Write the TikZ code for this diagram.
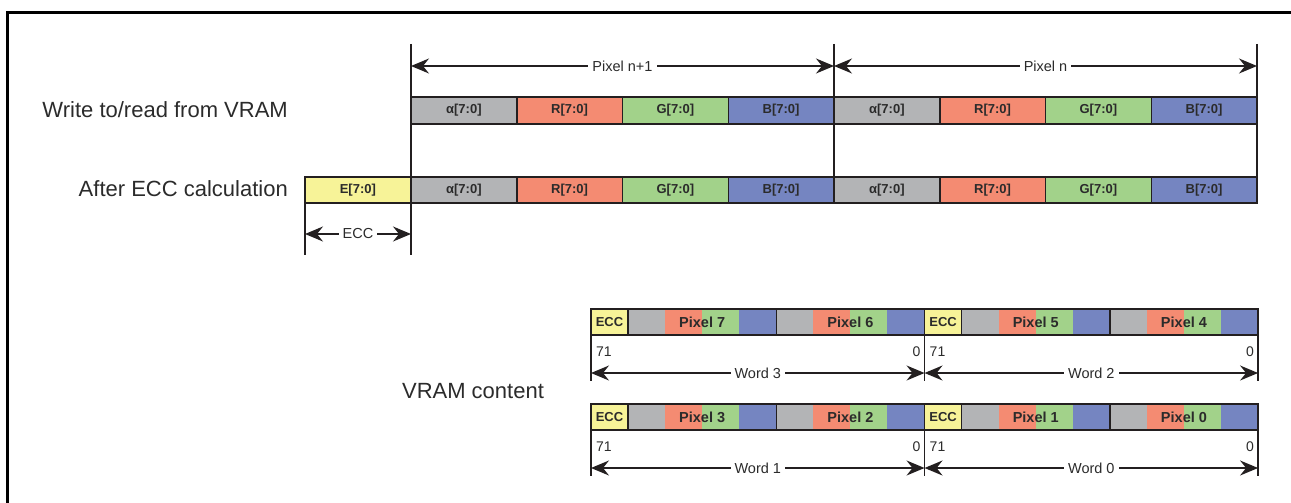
\documentclass[tikz,border=0pt]{standalone}
\usepackage{fontspec}
\setmainfont{Liberation Sans}
\usetikzlibrary{arrows.meta}

\definecolor{linecol}{HTML}{231F20}
\definecolor{txtcol}{HTML}{2B2B2B}
\definecolor{agray}{HTML}{B3B4B6}
\definecolor{rsalmon}{HTML}{F48B72}
\definecolor{ggreen}{HTML}{A2D28A}
\definecolor{bblue}{HTML}{7585C1}
\definecolor{eyellow}{HTML}{F7F398}

\tikzset{
  fieldbox/.style={draw=linecol, line width=1.5pt, minimum width=105.75pt,
    minimum height=27pt, inner sep=0pt, outer sep=0pt, anchor=north west,
    text=txtcol, font=\bfseries\fontsize{13}{15}\selectfont},
  eccbox/.style={draw=linecol, line width=1.6pt, fill=eyellow, minimum width=37.06pt,
    minimum height=26pt, inner sep=0pt, outer sep=0pt, anchor=north west,
    text=txtcol, font=\bfseries\fontsize{13}{15}\selectfont},
  pixbox/.style={draw=linecol, line width=1.6pt, minimum width=148.24pt,
    minimum height=26pt, inner sep=0pt, outer sep=0pt, anchor=north west,
    text=txtcol, font=\bfseries\fontsize{14.5}{17}\selectfont},
  wordbox/.style={draw=linecol, line width=1.8pt, minimum width=333.54pt,
    minimum height=26pt, inner sep=0pt, outer sep=0pt, anchor=north west},
  rowlabel/.style={text=txtcol, font=\fontsize{22}{26}\selectfont, inner sep=0pt},
  dimlabel/.style={fill=white, text=txtcol, inner xsep=4pt, inner ysep=1pt,
    font=\fontsize{14.5}{17}\selectfont},
  numtext/.style={text=txtcol, inner sep=0pt, font=\fontsize{14}{16}\selectfont},
  tick/.style={draw=linecol, line width=1.6pt},
  dimarrow/.style={draw=linecol, line width=1.6pt, <->}
}

\begin{document}
\begin{tikzpicture}[x=1pt, y=-1pt, >={Stealth[length=18pt,width=15pt,inset=6pt]}]

    \def\xe{305}     % left of E[7:0]
    \def\xa{411}     % start of pixel n+1
    \def\bw{105.75}  % one byte field, top rows
    \def\ya{97}      % write/read row
    \def\yb{177}     % after ECC row
    \def\u{37.06}    % one byte field, VRAM words
    \def\wh{26}
    \def\xw{591}     % left of word 3 / word 1

    \useasboundingbox (0,0) rectangle (1291,503);

    % --- Frame ---
    \draw[line width=3pt] (7,503) -- (7,13) -- (1291,13);

    % --- Row labels ---
    \node[rowlabel, anchor=east] (lwrite) at (288,110) {Write to/read from VRAM};
    \node[rowlabel, anchor=east] (lecc) at (288,189) {After ECC calculation};
    \node[rowlabel] (lvram) at (473,391) {VRAM content};

    % --- Write to/read from VRAM ---
    \node[fieldbox, fill=agray]   (wa1) at (\xa,\ya) {α[7:0]};
    \node[fieldbox, fill=rsalmon] (wr1) at (\xa+\bw,\ya) {R[7:0]};
    \node[fieldbox, fill=ggreen]  (wg1) at (\xa+2*\bw,\ya) {G[7:0]};
    \node[fieldbox, fill=bblue]   (wb1) at (\xa+3*\bw,\ya) {B[7:0]};
    \node[fieldbox, fill=agray]   (wa0) at (\xa+4*\bw,\ya) {α[7:0]};
    \node[fieldbox, fill=rsalmon] (wr0) at (\xa+5*\bw,\ya) {R[7:0]};
    \node[fieldbox, fill=ggreen]  (wg0) at (\xa+6*\bw,\ya) {G[7:0]};
    \node[fieldbox, fill=bblue]   (wb0) at (\xa+7*\bw,\ya) {B[7:0]};

    % --- After ECC calculation ---
    \node[fieldbox, fill=eyellow, minimum height=26pt] (ce)  at (\xe,\yb) {E[7:0]};
    \node[fieldbox, fill=agray, minimum height=26pt]   (ca1) at (\xa,\yb) {α[7:0]};
    \node[fieldbox, fill=rsalmon, minimum height=26pt] (cr1) at (\xa+\bw,\yb) {R[7:0]};
    \node[fieldbox, fill=ggreen, minimum height=26pt]  (cg1) at (\xa+2*\bw,\yb) {G[7:0]};
    \node[fieldbox, fill=bblue, minimum height=26pt]   (cb1) at (\xa+3*\bw,\yb) {B[7:0]};
    \node[fieldbox, fill=agray, minimum height=26pt]   (ca0) at (\xa+4*\bw,\yb) {α[7:0]};
    \node[fieldbox, fill=rsalmon, minimum height=26pt] (cr0) at (\xa+5*\bw,\yb) {R[7:0]};
    \node[fieldbox, fill=ggreen, minimum height=26pt]  (cg0) at (\xa+6*\bw,\yb) {G[7:0]};
    \node[fieldbox, fill=bblue, minimum height=26pt]   (cb0) at (\xa+7*\bw,\yb) {B[7:0]};

    % --- Pixel boundaries ---
    \coordinate (top1) at (\xa,44);
    \coordinate (top2) at (\xa+4*\bw,44);
    \coordinate (top3) at (\xa+8*\bw,44);
    \coordinate (bot1) at (\xa,255);
    \coordinate (bote) at (\xe,255);
    \draw[tick] (top1) -- (bot1);
    \draw[tick] (top2) -- (ca0.north west);
    \draw[tick] (top3) -- (cb0.south east);
    \draw[tick] (ce.south west) -- (bote);

    \coordinate (pn1l) at (\xa,66);
    \coordinate (pn1r) at (\xa+4*\bw,66);
    \coordinate (pnr)  at (\xa+8*\bw,66);
    \draw[dimarrow] (pn1l) -- (pn1r) node[midway, dimlabel] (lpn1) {Pixel n+1};
    \draw[dimarrow] (pn1r) -- (pnr) node[midway, dimlabel] (lpn) {Pixel n};

    \coordinate (eccl) at (\xe,234);
    \coordinate (eccr) at (\xa,234);
    \draw[dimarrow] (eccl) -- (eccr) node[midway, dimlabel] (lecca) {ECC};

    % --- VRAM words: #1 left, #2 top, #3 word, #4 #5 pixels ---
    \def\vramword#1#2#3#4#5{%
      \fill[agray]   (#1+\u,#2)   rectangle ++(\u,\wh);
      \fill[rsalmon] (#1+2*\u,#2) rectangle ++(\u,\wh);
      \fill[ggreen]  (#1+3*\u,#2) rectangle ++(\u,\wh);
      \fill[bblue]   (#1+4*\u,#2) rectangle ++(\u,\wh);
      \fill[agray]   (#1+5*\u,#2) rectangle ++(\u,\wh);
      \fill[rsalmon] (#1+6*\u,#2) rectangle ++(\u,\wh);
      \fill[ggreen]  (#1+7*\u,#2) rectangle ++(\u,\wh);
      \fill[bblue]   (#1+8*\u,#2) rectangle ++(\u,\wh);
      \node[eccbox] (ecc#3) at (#1,#2) {ECC};
      \node[pixbox] (px#4) at (#1+\u,#2) {Pixel #4};
      \node[pixbox] (px#5) at (#1+5*\u,#2) {Pixel #5};
      \node[wordbox] (word#3) at (#1,#2) {};
      \node[numtext, anchor=west] (msb#3) at (#1+5,#2+43) {71};
      \node[numtext, anchor=east] (lsb#3) at (#1+9*\u-4,#2+43) {0};
      \coordinate (wl#3) at (#1,#2+72);
      \coordinate (wr#3) at (#1+9*\u,#2+72);
      \draw[tick] (word#3.south west) -- (wl#3);
      \draw[tick] (word#3.south east) -- (wr#3);
      \coordinate (wal#3) at (#1,#2+64);
      \coordinate (war#3) at (#1+9*\u,#2+64);
      \draw[dimarrow] (wal#3) -- (war#3) node[midway, dimlabel] (lw#3) {Word #3};
    }

    \vramword{\xw}{309}{3}{7}{6}
    \vramword{\xw+9*\u}{309}{2}{5}{4}
    \vramword{\xw}{404}{1}{3}{2}
    \vramword{\xw+9*\u}{404}{0}{1}{0}

\end{tikzpicture}
\end{document}
